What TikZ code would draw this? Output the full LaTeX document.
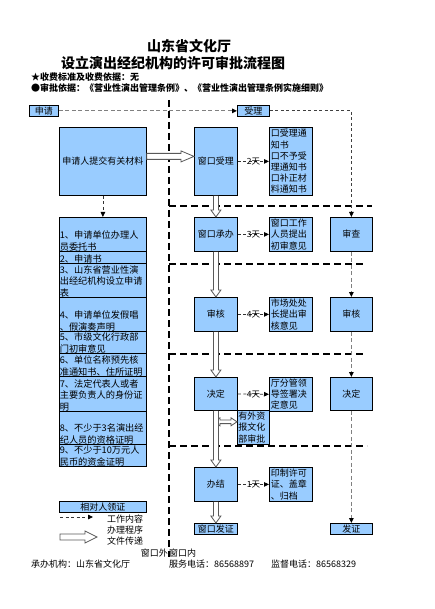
\documentclass[tikz,border=0pt]{standalone}
\usepackage{fontspec}
\setmainfont{Noto Sans CJK SC}
\usetikzlibrary{arrows.meta,calc}
\definecolor{boxblue}{RGB}{153,204,255}
\newcommand{\hollowDown}[2]{%
  \draw[hollow] let \p1=(#1.south), \p2=(#2.north) in
    (\x1-2.5pt,\y1) -- (\x1-2.5pt,\y2+7pt) -- (\x1-5pt,\y2+7pt) -- (\x1,\y2)
    -- (\x1+5pt,\y2+7pt) -- (\x1+2.5pt,\y2+7pt) -- (\x1+2.5pt,\y1);}
\newcommand{\hollowRight}[5]{%
  \draw[hollow] let \p1=#1, \p2=#2 in
    (\x1,\y1+#3) -- (\x2-#5,\y1+#3) -- (\x2-#5,\y1+#4) -- (\x2,\y1)
    -- (\x2-#5,\y1-#4) -- (\x2-#5,\y1-#3) -- (\x1,\y1-#3) -- cycle;}
\newcommand{\hollowBoth}[5]{%
  \draw[hollow] let \p1=#1, \p2=#2 in
    (\x1,\y1) -- (\x1+#5,\y1+#4) -- (\x1+#5,\y1+#3) -- (\x2-#5,\y1+#3)
    -- (\x2-#5,\y1+#4) -- (\x2,\y1) -- (\x2-#5,\y1-#4) -- (\x2-#5,\y1-#3)
    -- (\x1+#5,\y1-#3) -- (\x1+#5,\y1-#4) -- cycle;}
\tikzset{
  box/.style={draw=black, fill=boxblue, line width=0.8pt, inner sep=1pt,
    anchor=north west, font=\fontsize{9}{11.2}\selectfont},
  notebox/.style={box, align=left, inner sep=1.5pt, text width=40pt},
  rowbox/.style={draw=black, fill=boxblue, line width=0.8pt, anchor=north west,
    minimum width=87pt, inner sep=0pt},
  rowtext/.style={anchor=south west, inner sep=0.6pt, align=left,
    font=\fontsize{9.2}{11.5}\selectfont},
  sepline/.style={line width=1.2pt, dash pattern=on 7pt off 4pt},
  workarrow/.style={line width=0.8pt, draw=black!80, dash pattern=on 3pt off 2.5pt,
    -{Triangle[length=5pt,width=4.5pt,color=black]}},
  grayarrow/.style={line width=1.1pt, draw=black!50, dash pattern=on 4pt off 2.5pt,
    -{Triangle[length=5pt,width=4.5pt,color=black]}},
  hollow/.style={draw=black!65, line width=0.8pt, fill=white},
  daylabel/.style={font=\fontsize{8.5}{8.5}\selectfont, inner sep=0pt},
  plain/.style={inner sep=0pt, font=\fontsize{9}{10}\selectfont}
}
\begin{document}
\begin{tikzpicture}[x=1pt,y=-1pt]
\useasboundingbox[fill=white] (0,0) rectangle (435,609);

% titles
\node[inner sep=0pt, font=\fontsize{14}{14}\selectfont\bfseries] (t1) at (189,46) {山东省文化厅};
\node[inner sep=0pt, font=\fontsize{14}{14}\selectfont\bfseries] (t2) at (173,63) {设立演出经纪机构的许可审批流程图};
\node[plain, anchor=west, font=\fontsize{9}{9}\selectfont\bfseries] (s1) at (31,77) {★收费标准及收费依据：无};
\node[plain, anchor=west, font=\fontsize{9}{9}\selectfont\bfseries] (s2) at (31,88) {●审批依据：《营业性演出管理条例》、《营业性演出管理条例实施细则》};

% separators
\coordinate (vtop) at (169,100);
\coordinate (vbot) at (169,557);
\draw[sepline] (vtop) -- (vbot);
\coordinate (h1a) at (169,206); \coordinate (h1b) at (372,206);
\coordinate (h2a) at (169,264); \coordinate (h2b) at (365,264);
\coordinate (h3a) at (169,354); \coordinate (h3b) at (365,354);
\coordinate (h4a) at (169,446); \coordinate (h4b) at (367,446);
\draw[sepline] (h1a) -- (h1b);
\draw[sepline] (h2a) -- (h2b);
\draw[sepline] (h3a) -- (h3b);
\draw[sepline] (h4a) -- (h4b);

% top labels
\node[box, minimum width=29pt, minimum height=11pt, inner sep=0pt] (req) at (29,105) {申请};
\node[box, minimum width=32pt, minimum height=11pt, inner sep=0pt] (acc) at (237,105) {受理};

% applicant
\node[box, minimum width=87pt, minimum height=68pt] (apply) at (59,127) {申请人提交有关材料};

% material list
\node[rowbox, minimum height=34pt] (r1) at (59,217) {};
\node[rowbox, minimum height=12pt] (r2) at (59,251) {};
\node[rowbox, minimum height=34pt] (r3) at (59,263) {};
\node[rowbox, minimum height=34pt] (r4) at (59,297) {};
\node[rowbox, minimum height=22pt] (r5) at (59,331) {};
\node[rowbox, minimum height=23pt] (r6) at (59,353) {};
\node[rowbox, minimum height=35pt] (r7) at (59,376) {};
\node[rowbox, minimum height=33pt] (r8) at (59,411) {};
\node[rowbox, minimum height=22pt] (r9) at (59,444) {};
\node[rowtext] (r1t) at (r1.south west) {1、申请单位办理人\\员委托书};
\node[rowtext] (r2t) at (r2.south west) {2、申请书};
\node[rowtext] (r3t) at (r3.south west) {3、山东省营业性演\\出经纪机构设立申请\\表};
\node[rowtext] (r4t) at (r4.south west) {4、申请单位发假唱\\、假演奏声明};
\node[rowtext] (r5t) at (r5.south west) {5、市级文化行政部\\门初审意见};
\node[rowtext] (r6t) at (r6.south west) {6、单位名称预先核\\准通知书、住所证明};
\node[rowtext] (r7t) at (r7.south west) {7、法定代表人或者\\主要负责人的身份证\\明};
\node[rowtext] (r8t) at (r8.south west) {8、不少于3名演出经\\纪人员的资格证明};
\node[rowtext] (r9t) at (r9.south west) {9、不少于10万元人\\民币的资金证明};

% center column
\node[box, minimum width=43pt, minimum height=68pt] (win1) at (194,127) {窗口受理};
\node[box, minimum width=43pt, minimum height=34pt] (win2) at (194,217) {窗口承办};
\node[box, minimum width=43pt, minimum height=34pt] (rev) at (194,297) {审核};
\node[box, minimum width=43pt, minimum height=33pt] (dec) at (194,377) {决定};
\node[box, minimum width=43pt, minimum height=34pt] (fin) at (194,467) {办结};
\node[box, minimum width=43pt, minimum height=11pt, inner sep=0pt] (iss1) at (194,523) {窗口发证};

% notes
\node[notebox, minimum height=68pt] (n1) at (269,127) {口受理通\\知书\\口不予受\\理通知书\\口补正材\\料通知书};
\node[notebox, minimum height=34pt] (n2) at (269,217) {窗口工作\\人员提出\\初审意见};
\node[notebox, minimum height=34pt] (n3) at (269,297) {市场处处\\长提出审\\核意见};
\node[notebox, minimum height=33pt] (n4) at (269,377) {厅分管领\\导签署决\\定意见};
\node[notebox, minimum height=34pt] (n5) at (269,467) {印制许可\\证、盖章\\、归档};
\node[box, align=left, text width=30pt, inner sep=1pt, minimum height=34pt] (fw) at (237,410) {有外资\\报文化\\部审批};

% right column
\node[box, minimum width=42pt, minimum height=34pt] (chk) at (330,217) {审查};
\node[box, minimum width=42pt, minimum height=34pt] (rev2) at (330,297) {审核};
\node[box, minimum width=42pt, minimum height=33pt] (dec2) at (330,377) {决定};
\node[box, minimum width=42pt, minimum height=11pt, inner sep=0pt] (iss2) at (330,523) {发证};

% legend
\node[box, minimum width=87pt, minimum height=11pt, inner sep=0pt] (get) at (59,501) {相对人领证};
\coordinate (legC) at (60,517); \coordinate (legD) at (93,517);
\draw[workarrow] (legC) -- (legD);
\coordinate (legA) at (60,537); \coordinate (legB) at (97,537);
\hollowRight{(legA)}{(legB)}{3pt}{6pt}{12pt}
\node[plain, anchor=west] (lg1) at (107,519) {工作内容};
\node[plain, anchor=west] (lg2) at (107,530) {办理程序};
\node[plain, anchor=west] (lg3) at (107,541) {文件传递};

% connectors
\draw[grayarrow] (req.east) -- (acc.west);
\draw[workarrow, draw=black!75] (acc.east) -| (chk.north);
\draw[grayarrow] (chk.south) -- (rev2.north);
\draw[grayarrow] (rev2.south) -- (dec2.north);
\draw[grayarrow] (dec2.south) -- (iss2.north);
\draw[workarrow] (apply.south) -- (r1.north);

\draw[workarrow] (win1.east) -- node[daylabel] {2天} (n1.west);
\draw[workarrow] (win2.east) -- node[daylabel] {3天} (n2.west);
\draw[workarrow] (rev.east) -- node[daylabel] {4天} (n3.west);
\draw[workarrow] (dec.east) -- node[daylabel] {4天} (n4.west);
\draw[workarrow] (fin.east) -- node[daylabel] {1天} (n5.west);

\coordinate (ha) at ($(apply.east)+(0,-5)$);
\coordinate (hb) at (win1.west |- ha);
\hollowRight{(ha)}{(hb)}{3pt}{5.5pt}{13pt}

\coordinate (da) at ($(dec.south)+(-2,11)$);
\coordinate (db) at (fw.west |- da);
\hollowBoth{(da)}{(db)}{1.8pt}{4pt}{6pt}

\hollowDown{win1}{win2}
\hollowDown{win2}{rev}
\hollowDown{rev}{dec}
\hollowDown{dec}{fin}
\hollowDown{fin}{iss1}

% bottom labels
\node[plain, anchor=east] (out) at (168,553) {窗口外};
\node[plain, anchor=west] (in) at (169,553) {窗口内};
\node[plain, anchor=west] (f1) at (31,564) {承办机构：山东省文化厅};
\node[plain, anchor=west] (f2) at (169,564) {服务电话：86568897};
\node[plain, anchor=west] (f3) at (271,564) {监督电话：86568329};
\end{tikzpicture}
\end{document}
